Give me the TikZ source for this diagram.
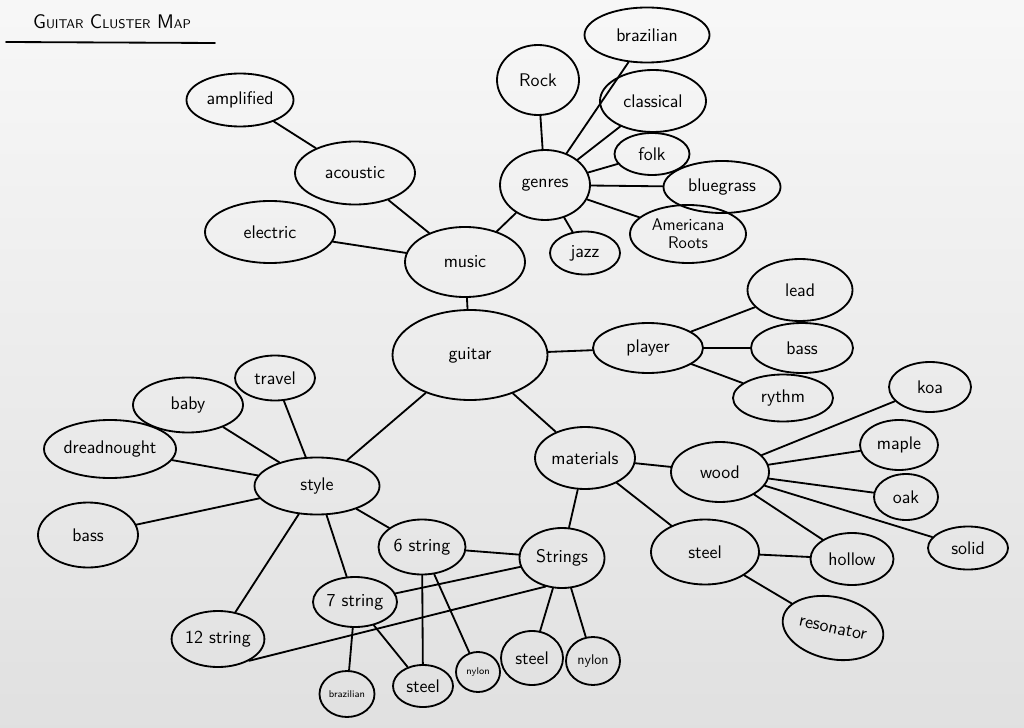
\documentclass[tikz,border=0pt]{standalone}
\usetikzlibrary{shapes.geometric}

\tikzset{
  bubble/.style={ellipse, draw, line width=1.3pt, inner sep=0pt, align=center,
    font=\sffamily\fontsize{13}{14}\selectfont},
  sz/.style 2 args={minimum width=#1*0.025cm, minimum height=#2*0.025cm},
  smalltext/.style={font=\sffamily\fontsize{7}{8}\selectfont},
  link/.style={line width=1.3pt, line cap=round}
}

\begin{document}
\begin{tikzpicture}[x=0.025cm, y=-0.025cm]
  % paper
  \shade[top color=black!3, bottom color=black!12] (0,0) rectangle (1024,728);
  \useasboundingbox (0,0) rectangle (1024,728);

  % title
  \node[font=\sffamily\fontsize{14}{16}\selectfont] (title) at (112,22)
    {G{\small UITAR} C{\small LUSTER} M{\small AP}};
  \coordinate (ulA) at (6,42);
  \coordinate (ulB) at (215,43);
  \draw[link] (ulA) -- (ulB);

  % centre
  \node[bubble, sz={155}{90}] (guitar) at (470,355) {guitar};

  % music branch
  \node[bubble, sz={120}{70}] (music) at (465,262) {music};
  \node[bubble, sz={120}{63}] (acoustic) at (355,173) {acoustic};
  \node[bubble, sz={107}{53}] (amplified) at (240,100) {amplified};
  \node[bubble, sz={130}{62}] (electric) at (270,232) {electric};
  \node[bubble, sz={90}{70}] (genres) at (545,185) {genres};
  \node[bubble, sz={82}{70}] (rock) at (538,80) {Rock};
  \node[bubble, sz={125}{55}] (brazil) at (647,35) {brazilian};
  \node[bubble, sz={106}{62}] (classical) at (653,101) {classical};
  \node[bubble, sz={75}{42}] (folk) at (652,154) {folk};
  \node[bubble, sz={117}{52}] (bluegrass) at (722,187) {bluegrass};
  \node[bubble, sz={116}{58}, font=\sffamily\fontsize{12}{13}\selectfont] (americana) at (688,234) {Americana\\Roots};
  \node[bubble, sz={70}{43}] (jazz) at (585,253) {jazz};

  % player branch
  \node[bubble, sz={110}{50}] (player) at (648,348) {player};
  \node[bubble, sz={105}{62}] (lead) at (800,290) {lead};
  \node[bubble, sz={102}{50}] (pbass) at (802,348) {bass};
  \node[bubble, sz={100}{47}] (rythm) at (783,398) {rythm};

  % materials branch
  \node[bubble, sz={100}{62}] (materials) at (585,458) {materials};
  \node[bubble, sz={98}{60}] (wood) at (720,472) {wood};
  \node[bubble, sz={82}{50}] (koa) at (930,387) {koa};
  \node[bubble, sz={78}{50}] (maple) at (899,445) {maple};
  \node[bubble, sz={64}{46}] (oak) at (906,497) {oak};
  \node[bubble, sz={80}{43}] (solid) at (968,548) {solid};
  \node[bubble, sz={83}{52}] (hollow) at (852,559) {hollow};
  \node[bubble, sz={108}{65}] (msteel) at (705,552) {steel};
  \node[bubble, sz={102}{62}, rotate=-12] (resonator) at (833,628) {resonator};

  % style branch
  \node[bubble, sz={125}{57}] (style) at (317,486) {style};
  \node[bubble, sz={80}{45}] (travel) at (275,378) {travel};
  \node[bubble, sz={110}{55}] (baby) at (188,405) {baby};
  \node[bubble, sz={132}{58}] (dread) at (110,449) {dreadnought};
  \node[bubble, sz={100}{65}] (sbass) at (88,535) {bass};
  \node[bubble, sz={87}{55}] (six) at (422,547) {6 string};
  \node[bubble, sz={84}{50}] (seven) at (355,602) {7 string};
  \node[bubble, sz={87}{56}] (twelve) at (218,639) {12 string};
  \node[bubble, sz={85}{60}] (strings) at (562,558) {Strings};
  \node[bubble, sz={55}{46}, smalltext] (sbrazil) at (347,694) {brazilian};
  \node[bubble, sz={60}{42}] (ssteel) at (423,686) {steel};
  \node[bubble, sz={44}{40}, smalltext] (snylon) at (478,672) {nylon};
  \node[bubble, sz={62}{54}] (tsteel) at (532,658) {steel};
  \node[bubble, sz={54}{48}, font=\sffamily\fontsize{10}{11}\selectfont] (tnylon) at (593,661) {nylon};

  % connectors
  \foreach \a/\b in {genres/rock, genres/brazil, genres/classical, genres/folk,
      genres/bluegrass, genres/americana, genres/jazz, genres/music,
      amplified/acoustic, acoustic/music, electric/music, music/guitar,
      guitar/player, player/lead, player/pbass, player/rythm,
      guitar/materials, materials/wood, materials/msteel, materials/strings,
      wood/koa, wood/maple, wood/oak, wood/solid, wood/hollow,
      msteel/hollow, msteel/resonator,
      guitar/style, style/travel, style/baby, style/dread, style/sbass,
      style/twelve, style/seven, style/six,
      six/strings, seven/strings,
      seven/sbrazil, seven/ssteel, six/ssteel, six/snylon,
      strings/tsteel, strings/tnylon}
    \draw[link] (\a) -- (\b);
  \draw[link] (twelve.-35) -- (strings.240);
\end{tikzpicture}
\end{document}
